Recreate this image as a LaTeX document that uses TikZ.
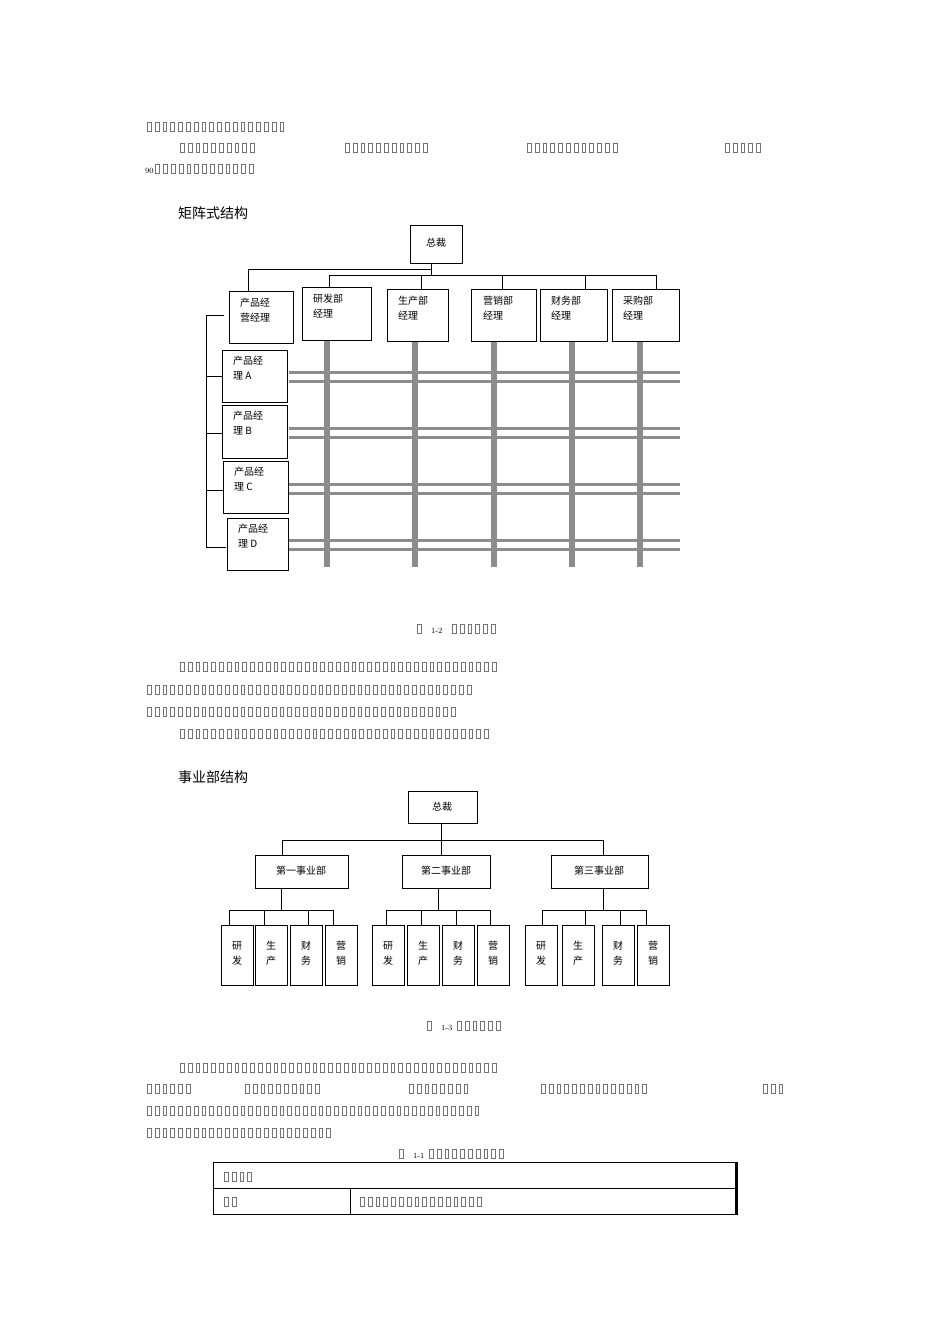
\documentclass[tikz,border=0pt]{standalone}
\usepackage{fontspec}
\newfontfamily\cjk{Noto Sans CJK SC}
\newcount\tfc
\def\tofubox{\hbox to 7.8pt{\hss\color{black!55}\vrule width0.5pt\vbox{\hrule width3.3pt height0.5pt\vskip8.5pt\hrule height0.5pt}\vrule width0.5pt\hss}}
\newcommand\tf[1]{\tfc=0 \loop\tofubox\advance\tfc 1 \ifnum\tfc<#1\repeat}
\begin{document}
\begin{tikzpicture}[x=1pt,y=-1pt,
  txt/.style={anchor=west,inner sep=0pt,font=\footnotesize},
  bx/.style={draw,line width=0.8pt,fill=white},
  ln/.style={line width=0.7pt},
  lab/.style={font=\cjk\fontsize{10}{15}\selectfont,align=left,anchor=north west,inner sep=0pt},
  gv/.style={draw=black!45,line width=6pt},
  gh/.style={draw=black!45,line width=3pt},
  title/.style={font=\cjk\fontsize{14}{16}\selectfont,anchor=west,inner sep=0pt}]
\useasboundingbox[fill=white] (0,0) rectangle (950,1344);
% text lines
\node[txt] (t1) at (145,127) {\tf{18}};
\node[txt] (t2a) at (178,148) {\tf{10}};
\node[txt] (t2b) at (343,148) {\tf{11}};
\node[txt] (t2c) at (525,148) {\tf{12}};
\node[txt] (t2d) at (723,148) {\tf{5}};
\node[txt] (t3) at (145,169) {90\tf{13}};
\node[title] (h1) at (178,213) {矩阵式结构};
% matrix chart
\draw[gh] (289,372)--(680,372) (289,381)--(680,381);
\draw[gh] (289,428)--(680,428) (289,437)--(680,437);
\draw[gh] (289,484)--(680,484) (289,493)--(680,493);
\draw[gh] (289,540)--(680,540) (289,549)--(680,549);
\foreach \x in {327,415,494,572,640}{\draw[gv] (\x,340)--(\x,567);}
\draw[bx] (410,225) rectangle (462,263); \node[lab,anchor=center] (zc) at (436,243) {总裁};
\draw[ln] (431,263)--(431,275) (248,269)--(431,269) (248,269)--(248,291) (329,275)--(656,275);
\foreach \x/\y in {329/287,421/289,502/289,585/289,656/289}{\draw[ln] (\x,275)--(\x,\y);}
\draw[bx] (229,291) rectangle (293,343); \node[lab] (pm) at (240,298) {产品经\\营经理};
\draw[bx] (302,287) rectangle (371,340); \node[lab] (d1) at (313,294) {研发部\\经理};
\draw[bx] (387,289) rectangle (448,341); \node[lab] (d2) at (398,296) {生产部\\经理};
\draw[bx] (471,289) rectangle (536,341); \node[lab] (d3) at (483,296) {营销部\\经理};
\draw[bx] (540,289) rectangle (607,341); \node[lab] (d4) at (551,296) {财务部\\经理};
\draw[bx] (612,289) rectangle (679,341); \node[lab] (d5) at (623,296) {采购部\\经理};
\draw[bx] (222,350) rectangle (287,402); \node[lab] (pa) at (233,356) {产品经\\理 A};
\draw[bx] (222,405) rectangle (287,458); \node[lab] (pb) at (233,411) {产品经\\理 B};
\draw[bx] (223,461) rectangle (288,513); \node[lab] (pc) at (234,467) {产品经\\理 C};
\draw[bx] (227,518) rectangle (288,570); \node[lab] (pd) at (238,524) {产品经\\理 D};
\draw[ln] (224,315)--(206,315)--(206,547)--(226,547) (206,376)--(222,376) (206,433)--(222,433) (206,490)--(223,490);
\node[txt] (c12) at (415,629) {\tf{1}\quad 1-2\quad\tf{6}};
\node[txt] (p1) at (178,667) {\tf{41}};
\node[txt] (p2) at (145,690) {\tf{42}};
\node[txt] (p3) at (145,712) {\tf{40}};
\node[txt] (p4) at (178,734) {\tf{40}};
\node[title] (h2) at (178,777) {事业部结构};
% division chart
\draw[bx] (408,791) rectangle (477,823); \node[lab,anchor=center] (zc2) at (442,807) {总裁};
\draw[ln] (441,823)--(441,855) (282,840)--(603,840) (282,840)--(282,855) (603,840)--(603,855);
\draw[bx] (255,855) rectangle (348,888); \node[lab,anchor=center] (v1) at (301,871) {第一事业部};
\draw[bx] (402,855) rectangle (490,888); \node[lab,anchor=center] (v2) at (446,871) {第二事业部};
\draw[bx] (551,855) rectangle (648,888); \node[lab,anchor=center] (v3) at (599,871) {第三事业部};
\draw[ln] (281,888)--(281,910) (229,910)--(333,910);
\draw[ln] (438,888)--(438,910) (386,910)--(490,910);
\draw[ln] (603,888)--(603,910) (542,910)--(646,910);
\foreach \x in {229,264,308,333,386,421,456,490,542,585,620,646}{\draw[ln] (\x,910)--(\x,925);}
\foreach \l/\a/\b in {221/研/发,255/生/产,290/财/务,325/营/销,372/研/发,407/生/产,442/财/务,477/营/销,525/研/发,562/生/产,602/财/务,637/营/销}{
  \draw[bx] (\l,925) rectangle ++(32,60);
  \node[lab,align=center,anchor=center] at (\l+16,953) {\a\\\b};}
\node[txt] (c13) at (425,1026) {\tf{1}\quad 1-3 \tf{6}};
\node[txt] (q1) at (178,1068) {\tf{41}};
\node[txt] (q2a) at (145,1089) {\tf{6}};
\node[txt] (q2b) at (243,1089) {\tf{10}};
\node[txt] (q2c) at (407,1089) {\tf{8}};
\node[txt] (q2d) at (539,1089) {\tf{14}};
\node[txt] (q2e) at (761,1089) {\tf{3}};
\node[txt] (q3) at (145,1111) {\tf{43}};
\node[txt] (q4) at (145,1133) {\tf{24}};
\node[txt] (c11) at (397,1154) {\tf{1}\quad 1-1 \tf{10}};
% table
\draw[line width=0.8pt] (213,1162) rectangle (737,1214) (213,1188)--(737,1188) (350,1188)--(350,1214);
\draw[line width=2pt] (736,1162)--(736,1214);
\node[txt] (r1) at (222,1177) {\tf{4}};
\node[txt] (r2) at (222,1202) {\tf{2}};
\node[txt] (r3) at (358,1202) {\tf{16}};
\end{tikzpicture}
\end{document}
